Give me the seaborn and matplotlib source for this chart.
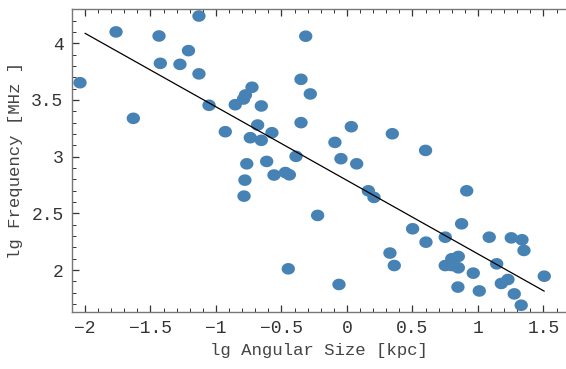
import numpy as np
import pandas as pd
import matplotlib
matplotlib.use("Agg")
import matplotlib.pyplot as plt
from matplotlib.path import Path
from matplotlib.ticker import MultipleLocator
import seaborn as sns

size_x = [-2.038, -1.763, -1.631, -1.435, -1.425, -1.275, -1.21, -1.13, -1.13, -1.053,
          -0.929, -0.853, -0.79, -0.775, -0.725, -0.654, -0.682, -0.738, -0.654, -0.573,
          -0.765, -0.613, -0.557, -0.47, -0.44, -0.779, -0.786, -0.448,
          -0.315, -0.351, -0.28, -0.351, 0.033, 0.346, -0.092, 0.60, -0.389, -0.046, 0.074,
          0.163, 0.206, 0.914, -0.224, 0.875, 0.501, 0.603, 0.75, 1.086, 1.254, 1.336, 1.351,
          0.328, 0.361, 0.85, 0.80, 0.75, 0.80, 0.85, 0.964, 1.143, 1.506, 1.229, 1.178,
          0.847, 1.01, 1.277, 1.33, -0.061]
freq_y = [3.652, 4.10, 3.338, 4.064, 3.823, 3.814, 3.935, 4.24, 3.73, 3.453,
          3.22, 3.458, 3.508, 3.544, 3.612, 3.447, 3.279, 3.167, 3.144, 3.211,
          2.937, 2.958, 2.838, 2.86, 2.84, 2.793, 2.652, 2.011,
          4.062, 3.682, 3.553, 3.30, 3.264, 3.202, 3.126, 3.055, 3.003, 2.982, 2.937,
          2.699, 2.641, 2.699, 2.482, 2.408, 2.364, 2.246, 2.29, 2.29, 2.284, 2.267, 2.173,
          2.15, 2.04, 2.12, 2.10, 2.04, 2.04, 2.02, 1.973, 2.055, 1.946, 1.917, 1.882,
          1.85, 1.816, 1.79, 1.69, 1.873]

fit_x = [-2.0, 1.506]
fit_y = [4.088, 1.814]

x_ticks = [-2, -1.5, -1, -0.5, 0, 0.5, 1, 1.5]
y_ticks = [2, 2.5, 3, 3.5, 4]

df = pd.DataFrame({"x": size_x, "y": freq_y})
fit = pd.DataFrame({"x": fit_x, "y": fit_y})

sns.set_style("white")
plt.rcParams["font.family"] = ["Liberation Mono", "DejaVu Sans Mono"]

fig = plt.figure(figsize=(5.66, 3.69), dpi=100)
ax = fig.add_axes([0.127, 0.155, 0.873, 0.82])

t = np.linspace(0, 2 * np.pi, 60)
ell = Path(np.column_stack([1.15 * np.cos(t), np.sin(t)]), closed=True)

sns.scatterplot(data=df, x="x", y="y", ax=ax, marker=ell, s=92,
                color="#4682b4", edgecolor="none", linewidth=0, zorder=2)
sns.lineplot(data=fit, x="x", y="y", ax=ax, color="black", linewidth=0.9, zorder=3)

ax.set_xlim(-2.1, 1.672)
ax.set_ylim(1.632, 4.30)
ax.set_xticks(x_ticks)
ax.set_xticklabels([("\u2212" + f"{abs(v):g}") if v < 0 else f"{v:g}" for v in x_ticks])
ax.set_yticks(y_ticks)
ax.set_yticklabels([f"{v:g}" for v in y_ticks])
ax.xaxis.set_minor_locator(MultipleLocator(0.1))
ax.yaxis.set_minor_locator(MultipleLocator(0.1))

for s in ["left", "bottom", "top"]:
    ax.spines[s].set_visible(True)
    ax.spines[s].set_color("#777777")
    ax.spines[s].set_linewidth(1.0)
ax.spines["right"].set_visible(False)

ax.tick_params(which="both", direction="in", top=True, bottom=True, left=True, right=False,
               color="#333333", labelcolor="#333333", labelsize=13)
ax.tick_params(which="major", length=5, width=0.9, pad=6)
ax.tick_params(which="minor", length=3, width=0.7)

ax.set_xlabel("lg Angular Size [kpc]", fontsize=12.5, color="#444444", labelpad=4)
ax.set_ylabel("lg Frequency [MHz ]", fontsize=12.5, color="#444444", labelpad=6)

fig.savefig("out.png", dpi=100)
